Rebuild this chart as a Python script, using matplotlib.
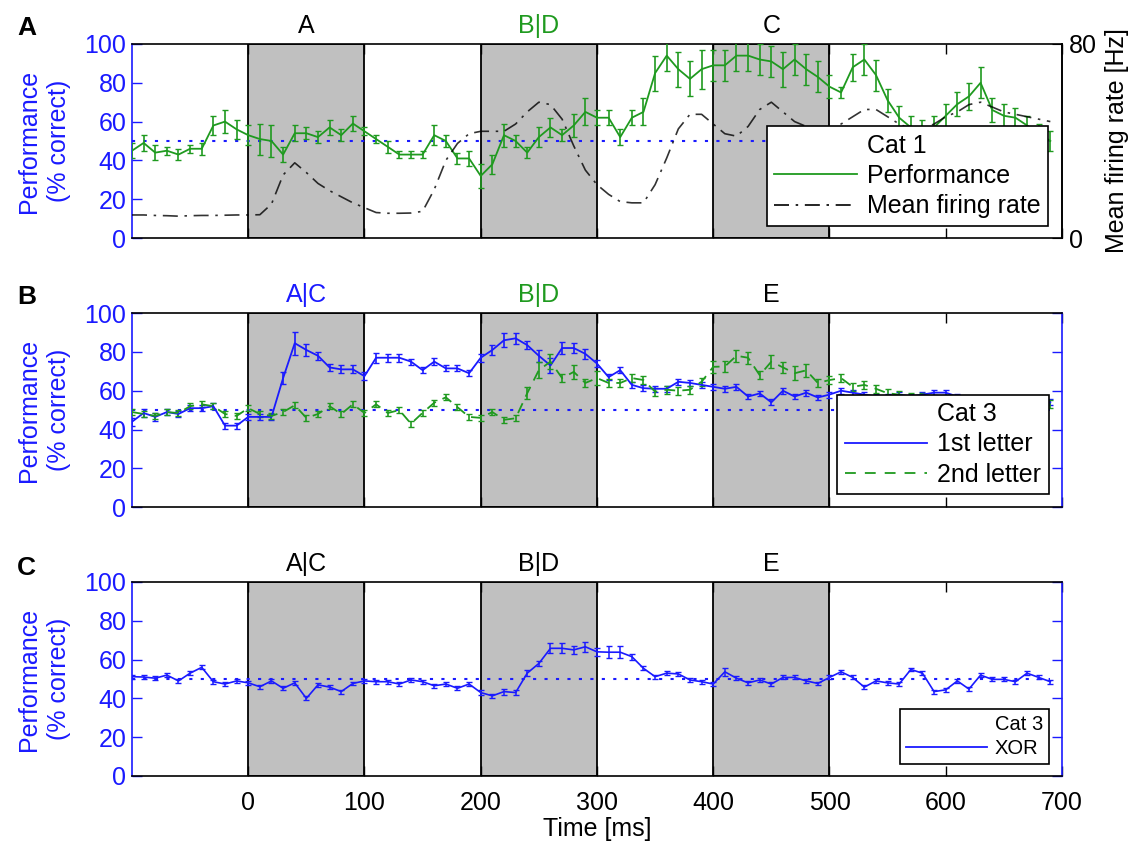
"""
Desempenho de classificacao (Cat 1 / Cat 3) ao longo do tempo, tres paineis.
"""
import matplotlib
matplotlib.use('Agg')
import matplotlib.pyplot as plt
from matplotlib.lines import Line2D
import numpy as np

plt.rcParams.update({
    'font.family': 'Liberation Sans',
    'font.size': 18,
    'axes.linewidth': 1.2,
    'figure.facecolor': 'white',
})

BLUE = '#1a1aff'
GREEN = '#1f9a1f'
GRAY = '#c0c0c0'

# ---------------------------------------------------------------
# Dados (passo de 10 ms)
# ---------------------------------------------------------------
time_ms = np.arange(-100, 700, 10)
stim_windows = [(0, 100), (200, 300), (400, 500)]
window_centers = [50, 250, 450]

# Painel A: Cat 1
cat1_perf = [45, 49, 44, 45, 43, 46, 46, 58, 60, 56,
             53, 51, 50, 43, 54, 54, 52, 57, 53, 59,
             55, 51, 47, 43, 43, 43, 53, 50, 41, 41,
             32, 38, 53, 50, 44, 52, 57, 53, 58, 65,
             62, 62, 52, 62, 65, 85, 94, 87, 82, 87,
             89, 89, 94, 94, 92, 91, 87, 92, 87, 83,
             78, 75, 88, 92, 84, 71, 62, 57, 55, 57,
             63, 69, 73, 80, 66, 63, 62, 58, 54, 50]
cat1_err = [4, 4, 4, 2, 3, 2, 3, 5, 6, 5,
            5, 8, 8, 4, 4, 3, 3, 4, 3, 4,
            2, 2, 3, 2, 2, 2, 5, 3, 3, 4,
            6, 5, 6, 3, 3, 5, 5, 3, 6, 7,
            4, 4, 4, 4, 7, 9, 8, 9, 9, 10,
            8, 8, 8, 8, 8, 8, 9, 8, 8, 8,
            6, 3, 7, 8, 8, 6, 6, 6, 6, 6,
            6, 6, 7, 8, 6, 6, 5, 5, 5, 5]
firing_rate = [9.5, 9.5, 9.3, 9.2, 9.0, 9.2, 9.3, 9.3, 9.4, 9.5,
               9.5, 9.6, 14, 26, 31, 27, 22.5, 19.5, 17, 14.5,
               12.5, 10.5, 10.2, 10.2, 10.3, 11, 20, 32, 39, 43,
               44, 44, 44, 47, 52, 56, 55, 49, 38, 28,
               22, 18, 15, 14.5, 14.5, 22, 33, 45, 51, 51,
               47, 43, 42, 46, 53, 56, 52, 48, 46, 45,
               45, 47, 50, 53, 53, 50, 47, 45, 45, 47,
               50, 52, 55, 56, 54, 52, 51, 50, 49, 48]

# Painel B: Cat 3, 1a e 2a letra
first_letter = [44, 48.5, 46.5, 49, 48, 51, 51, 52, 42, 42,
                46.5, 46.5, 46.5, 66.5, 84.5, 81, 78, 72, 71, 71,
                67.5, 77, 77, 77, 75, 70.6, 75, 71.5, 71.5, 69,
                77, 81, 86, 87, 83.5, 78, 73, 82, 82, 79,
                74, 67, 70.6, 63, 61.3, 61, 61, 64.6, 64, 63,
                62, 61, 62, 57, 58.6, 54, 60, 57, 59, 56.5,
                58, 60, 59, 58, 57, 57, 58, 57, 58, 59,
                59, 57, 56, 56, 55, 55, 55, 54, 54, 54]
first_err = [2, 2, 2, 1.5, 1.5, 1.5, 1.5, 1.5, 1.5, 1.5,
             1.5, 1.5, 1.5, 3, 6, 3, 2, 2, 2, 2,
             2, 2.5, 2, 2, 1.5, 1.5, 2, 1.5, 1.5, 1.5,
             2, 2.5, 3.5, 3, 2, 3, 4, 3, 2.5, 2.5,
             2, 1.5, 1.5, 1.5, 1.5, 1.5, 1.5, 1.5, 1.5, 1.5,
             1.5, 1.5, 1.5, 1.5, 1.5, 1.5, 1.5, 1.5, 1.5, 1.5,
             1.5, 1.5, 1.5, 1.5, 1.5, 1.5, 1.5, 1.5, 1.5, 1.5,
             1.5, 1.5, 1.5, 1.5, 1.5, 1.5, 1.5, 1.5, 1.5, 1.5]
second_letter = [49, 48, 47, 49, 48.5, 52, 53, 52, 48, 47,
                 51, 48, 47, 49, 52.5, 46, 48, 52, 48, 53,
                 48.5, 53, 48.5, 50, 43, 48.6, 53.8, 56.6, 51.5, 46.5,
                 46, 49, 45, 45.8, 58.7, 70.6, 75, 66.5, 69.7, 64,
                 66.5, 64, 64, 66.5, 65.5, 59.5, 60.5, 60, 60.5, 64.6,
                 72.3, 72.5, 78, 77, 68, 75, 72, 69, 70.5, 64,
                 65.5, 66.5, 62, 63, 61, 58.7, 58, 57, 57, 56,
                 56, 55, 55, 55, 54, 54, 54, 54, 53, 53]
second_err = [1.5, 1.5, 1.5, 1.5, 1.5, 1.5, 1.5, 1.5, 1.5, 1.5,
              1.5, 1.5, 1.5, 1.5, 1.5, 1.5, 1.5, 1.5, 1.5, 1.5,
              1.5, 1.5, 1.5, 1.5, 1.5, 1.5, 1.5, 1.5, 1.5, 1.5,
              1.5, 1.5, 1.5, 1.5, 3, 4, 4, 2, 3.5, 2,
              3.5, 2, 2, 2, 2, 2, 2, 2, 2, 2,
              3, 3, 3, 3, 2, 3.5, 3, 3.5, 3.5, 2,
              2, 2, 2, 2, 2, 2, 2, 2, 2, 2,
              2, 2, 2, 2, 2, 2, 2, 2, 2, 2]

# Painel C: Cat 3, XOR
xor_perf = [51.2, 51, 50.4, 52, 49, 53, 56, 48.6, 47.4, 49,
            48, 46, 49, 45.2, 48, 40, 47, 45.8, 43.5, 47.7,
            49, 48.6, 48.6, 47.4, 49.5, 48.6, 46.5, 47.4, 45.2, 47.4,
            43, 41.3, 43.5, 43, 53, 58, 65.8, 65.8, 65, 66.6,
            64, 63.8, 63.8, 61.5, 55.5, 51.2, 53, 52.6, 49.5, 48.6,
            47.4, 53.7, 50.4, 48, 49.5, 47.4, 50.8, 50.8, 49, 47.7,
            50.8, 53.7, 50.8, 45.8, 49, 48, 47.4, 54.9, 53, 43.5,
            44.4, 49, 44.8, 52, 49.8, 49.8, 48.6, 53, 50.8, 48.6]
xor_err = [1, 1, 1, 1, 1, 1, 1, 1, 1, 1,
           1, 1, 1, 1, 1, 1, 1, 1, 1, 1,
           1, 1, 1, 1, 1, 1, 1, 1, 1, 1,
           1.5, 1, 1.5, 1.5, 1.5, 1.5, 2.5, 2.5, 2, 2.5,
           2, 3, 3, 1.5, 1, 1, 1, 1, 1, 1,
           1, 2, 1, 1, 1, 1, 1, 1, 1, 1,
           1, 1, 1, 1, 1, 1, 1, 1, 1, 1,
           1, 1, 1, 1, 1, 1, 1, 1, 1, 1]

# ---------------------------------------------------------------
# Figura
# ---------------------------------------------------------------
fig = plt.figure(figsize=(11.33, 8.41), dpi=100)
left, width, height = 0.1165, 0.8208, 0.2307
axA = fig.add_axes([left, 0.717, width, height])
axB = fig.add_axes([left, 0.397, width, height])
axC = fig.add_axes([left, 0.0773, width, height])


def base_panel(ax, titles, title_colors, right_color=BLUE):
    ax.set_xlim(-100, 700)
    ax.set_ylim(0, 100)
    for x0, x1 in stim_windows:
        ax.axvspan(x0, x1, facecolor=GRAY, edgecolor='black', lw=1.3, zorder=0)
    ax.hlines(50, -100, 690, colors=BLUE, linestyles=(0, (1.5, 4)), lw=1.5, zorder=1)
    ax.set_xticks(np.arange(0, 701, 100))
    ax.set_yticks(np.arange(0, 101, 20))
    ax.tick_params(axis='both', direction='in', length=7, width=1, top=True, right=True)
    ax.tick_params(axis='x', pad=11)
    ax.tick_params(axis='y', colors=BLUE, pad=4)
    ax.spines['left'].set_color(BLUE)
    ax.spines['right'].set_color(right_color)
    ax.set_ylabel('Performance\n(% correct)', color=BLUE, fontsize=18, linespacing=1.3)
    ax.yaxis.set_label_coords(-0.066, 0.5)
    for xc, t, c in zip(window_centers, titles, title_colors):
        ax.text(xc, 1.03, t, color=c, fontsize=18, ha='center', va='bottom',
                transform=ax.get_xaxis_transform())


def empty_handle():
    return Line2D([], [], color='none')


leg_kw = dict(frameon=True, fancybox=False, edgecolor='black', framealpha=1,
              borderaxespad=0, handletextpad=0.4, borderpad=0.3, labelspacing=0.25)

# ---------------- Painel A ----------------
base_panel(axA, ['A', 'B|D', 'C'], ['black', GREEN, 'black'], right_color='black')
axA.tick_params(axis='x', labelbottom=False)
axA.errorbar(time_ms, cat1_perf, yerr=cat1_err, color=GREEN, lw=1.3, elinewidth=1.2,
             capsize=2.5, zorder=3)
axA2 = axA.twinx()
axA2.set_ylim(0, 80)
axA2.set_yticks([0, 80])
axA2.tick_params(axis='y', direction='in', length=7, colors='black', pad=5)
for side in ['left', 'top', 'bottom']:
    axA2.spines[side].set_visible(False)
axA2.spines['right'].set_color('black')
axA2.plot(time_ms, firing_rate, color='black', lw=1.2, dashes=(9, 4, 1.5, 4), alpha=0.8)
axA2.set_ylabel('Mean firing rate [Hz]', fontsize=18, labelpad=6)
legA = axA2.legend([empty_handle(),
                    Line2D([], [], color=GREEN, lw=1.3),
                    Line2D([], [], color='black', lw=1.2, dashes=(9, 4, 1.5, 4))],
                   ['Cat 1', 'Performance', 'Mean firing rate'],
                   loc='lower right', bbox_to_anchor=(0.985, 0.062), fontsize=18,
                   handlelength=3.3, **leg_kw)
legA.get_frame().set_linewidth(1.2)

# ---------------- Painel B ----------------
base_panel(axB, ['A|C', 'B|D', 'E'], [BLUE, GREEN, 'black'])
axB.tick_params(axis='x', labelbottom=False)
axB.errorbar(time_ms, first_letter, yerr=first_err, color=BLUE, lw=1.3, elinewidth=1.2,
             capsize=2.5, zorder=3)
eb2 = axB.errorbar(time_ms, second_letter, yerr=second_err, color=GREEN, lw=1.3,
                   elinewidth=1.2, capsize=2.5, zorder=3)
eb2[0].set_dashes((6, 4))
legB = axB.legend([empty_handle(),
                   Line2D([], [], color=BLUE, lw=1.3),
                   Line2D([], [], color=GREEN, lw=1.3, dashes=(6, 5))],
                  ['Cat 3', '1st letter', '2nd letter'],
                  loc='lower right', bbox_to_anchor=(0.986, 0.067), fontsize=18,
                  handlelength=3.3, **leg_kw)
legB.get_frame().set_linewidth(1.2)
legB.set_zorder(10)

# ---------------- Painel C ----------------
base_panel(axC, ['A|C', 'B|D', 'E'], ['black', 'black', 'black'])
axC.errorbar(time_ms, xor_perf, yerr=xor_err, color=BLUE, lw=1.2, elinewidth=1.1,
             capsize=2.2, zorder=3)
axC.set_xlabel('Time [ms]', fontsize=18, labelpad=1)
legC = axC.legend([empty_handle(), Line2D([], [], color=BLUE, lw=1.3)],
                  ['Cat 3', 'XOR'], loc='lower right', bbox_to_anchor=(0.986, 0.062),
                  fontsize=14.5, handlelength=4.0, borderpad=0.3, handletextpad=0.4,
                  frameon=True, fancybox=False, edgecolor='black', framealpha=1,
                  borderaxespad=0, labelspacing=0.25)
legC.get_frame().set_linewidth(1.2)
legC.set_zorder(10)

# Letras dos paineis
for y, letter in [(0.952, 'A'), (0.632, 'B'), (0.31, 'C')]:
    fig.text(0.015, y, letter, fontsize=19, fontweight='bold', va='bottom')

plt.savefig('out.png', dpi=100)
plt.close()
